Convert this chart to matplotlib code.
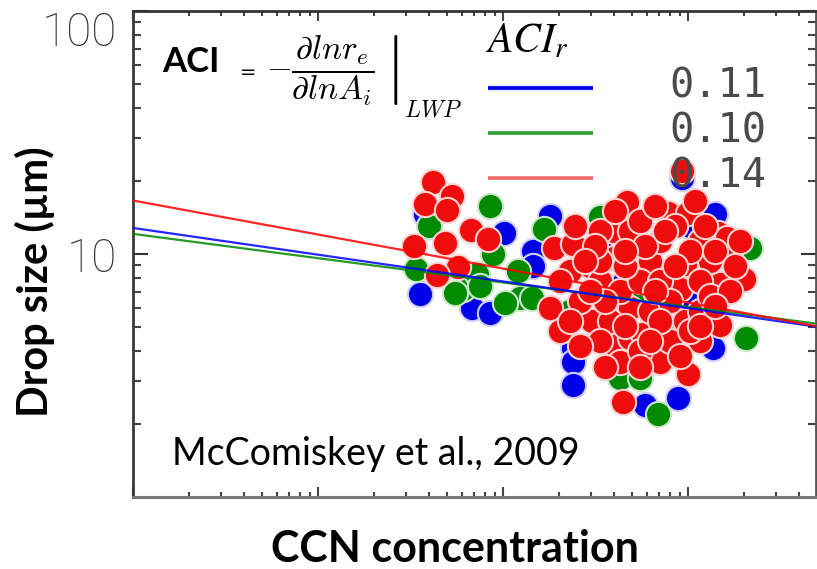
import matplotlib
matplotlib.use("Agg")
import matplotlib.pyplot as plt
import numpy as np
from matplotlib.ticker import LogLocator, NullFormatter, FixedLocator

plt.rcParams['mathtext.fontset'] = 'stix'

# ---------------- data ----------------
ccn_blue = [35.6, 68, 85, 38, 101, 146, 180, 146, 240, 240, 240, 586, 1400, 1025,
            1360, 880, 930, 450, 620, 334, 1000, 720]
drop_blue = [6.84, 6.0, 5.7, 14.6, 12.2, 10.3, 14.35, 8.9, 4.1, 3.6, 2.9, 2.4, 14.6, 13.05,
             4.1, 2.55, 20.5, 7.7, 6.4, 11.3, 6.4, 4.8]

ccn_green = [85, 88, 120, 124, 102, 61, 72, 34, 40, 166, 230, 430, 550, 690, 2060, 2160,
             143, 335, 55, 75, 550, 800, 334, 1161]
drop_green = [15.8, 10.0, 8.5, 6.6, 6.3, 7.2, 8.3, 8.7, 13.0, 12.7, 5.8, 3.1, 3.1, 2.2, 4.5,
              10.6, 6.6, 14.2, 6.9, 7.4, 7.0, 4.6, 4.6, 9.4]

ccn_red = [42, 53, 38, 50, 67, 33, 48.6, 83, 57, 44,
           468, 188, 238, 400, 486, 400, 295, 180, 303, 486, 400, 486, 429, 445, 640,
           930, 780, 1000, 1450, 1620, 1690, 2000, 960, 905, 1490, 964, 1490, 706, 1000,
           570, 623,
           334, 550, 706, 1161, 1315, 334, 429, 550, 706, 1161, 379, 623, 800, 1161, 550,
           800, 1161, 334, 261, 230, 334, 706, 1025, 586, 457, 851, 1236, 203, 203, 261,
           1315, 1687, 245, 314,
           277, 356, 457, 663, 851, 1025, 1400, 1795, 623, 457, 356, 550, 906, 1161, 751,
           295, 230, 1910, 1400, 403, 663, 1091]
drop_red = [19.7, 17.4, 16.0, 15.2, 12.6, 10.8, 11.1, 11.5, 8.8, 8.2,
            16.3, 10.6, 11.0, 12.45, 12.45, 9.6, 8.9, 6.0, 5.28, 6.0, 4.25, 4.5, 3.6, 2.47, 3.6,
            22.0, 14.7, 14.7, 12.2, 11.6, 9.6, 7.9, 9.1, 7.2, 7.5, 5.28, 5.1, 3.6, 3.2,
            4.7, 9.36,
            12.45, 13.7, 11.3, 11.3, 9.36, 7.73, 7.03, 7.73, 7.73, 7.73, 5.28, 5.81, 6.39, 5.81,
            3.97, 4.37, 4.37, 4.37, 6.39, 8.51, 9.36, 5.28, 10.29, 10.79, 8.92, 13.05, 13.05,
            7.73, 4.8, 4.17, 6.71, 7.03, 13.05, 10.8,
            9.36, 6.39, 10.29, 7.03, 8.92, 4.8, 10.29, 8.92, 4.37, 5.04, 3.44, 3.44, 3.79, 5.04,
            12.45, 7.03, 5.28, 11.3, 6.10, 15.05, 15.8, 16.6]

aci_labels = ['0.11', '0.10', '0.14']          # blue, green, red
aci_values = [0.11, 0.10, 0.14]
fit_intercepts = [12.8, 12.1, 16.6]            # drop size at CCN = 1
series_colors = ['#0000e6', '#008a00', '#ee0c0c']
series_edges = ['#cfcfff', '#cce8cc', '#fcd4d4']
fit_colors = ['#0000ff', '#008800', '#ff0000']
legend_colors = ['#0000e0', '#2e9e2e', '#f06868']

ytick_vals = [10, 100]
ytick_labels = ['10', '100']

# ---------------- figure ----------------
fig = plt.figure(figsize=(8.17, 5.69), dpi=100)
fig.patch.set_facecolor('white')
ax = fig.add_axes([133 / 817, 1 - 497 / 569, 683 / 817, 486 / 569])
ax.set_xscale('log')
ax.set_yscale('log')
xmax = 10 ** (683 / 185)
ax.set_xlim(1, xmax)
ax.set_ylim(1, 100)

ms = 330
for cx, cy, c, e in [(ccn_blue, drop_blue, series_colors[0], series_edges[0]),
                     (ccn_green, drop_green, series_colors[1], series_edges[1]),
                     (ccn_red, drop_red, series_colors[2], series_edges[2])]:
    ax.scatter(cx, cy, s=ms, c=c, edgecolors=e, linewidths=1.5, zorder=2)

xx = np.logspace(0, np.log10(xmax), 50)
for order in [1, 0, 2]:
    ax.plot(xx, fit_intercepts[order] * xx ** (-aci_values[order]),
            color=fit_colors[order], lw=1.6, alpha=0.85, zorder=3, solid_capstyle='butt')

# legend (manual)
leg_y = [0.8416, 0.749, 0.6564]
for i in range(3):
    if i == 0:
        ax.plot([0.5198, 0.6735], [leg_y[i], leg_y[i]], transform=ax.transAxes,
                color='#dcdcff', lw=4.5, zorder=4, solid_capstyle='butt')
    ax.plot([0.5198, 0.6735], [leg_y[i], leg_y[i]], transform=ax.transAxes,
            color=legend_colors[i], lw=2.6, zorder=4, solid_capstyle='butt')
    ax.text(0.786, leg_y[i] + 0.004, aci_labels[i], transform=ax.transAxes,
            family='DejaVu Sans Mono', fontsize=29, color='#4a4a4a',
            va='center', ha='left', zorder=6)

ax.text(0.515, 0.94, r'$ACI_r$', transform=ax.transAxes, fontsize=30,
        va='center', ha='left', color='black', zorder=6)

ax.text(0.0425, 0.895, 'ACI', transform=ax.transAxes, family='Lato',
        fontweight='bold', fontsize=25, va='center', ha='left', zorder=6)
ax.text(0.157, 0.874, '=', transform=ax.transAxes, fontsize=14,
        va='center', ha='left', zorder=6)
ax.text(0.195, 0.879,
        r'$-\left.\dfrac{\partial ln r_e}{\partial ln A_i}\;\right|$',
        transform=ax.transAxes, fontsize=24, va='center', ha='left', zorder=6,
        math_fontfamily='cm')
ax.text(0.397, 0.797, r'$LWP$', transform=ax.transAxes, fontsize=17,
        va='center', ha='left', zorder=6, math_fontfamily='cm')

ax.text(0.057, 0.0658, 'McComiskey et al., 2009', transform=ax.transAxes,
        family='Lato', fontsize=27, va='baseline', ha='left', zorder=6)

# ticks
ax.xaxis.set_major_locator(LogLocator(base=10, numticks=10))
ax.xaxis.set_minor_locator(LogLocator(base=10, subs=np.arange(2, 10), numticks=20))
ax.xaxis.set_major_formatter(NullFormatter())
ax.xaxis.set_minor_formatter(NullFormatter())
ax.yaxis.set_major_locator(FixedLocator(ytick_vals))
ax.yaxis.set_minor_locator(LogLocator(base=10, subs=np.arange(2, 10), numticks=20))
ax.set_yticklabels(ytick_labels, family='Roboto', fontweight='light')
ax.yaxis.set_minor_formatter(NullFormatter())

ax.tick_params(axis='x', which='major', direction='in', length=7.5, width=1.5,
               color='#444', top=True, bottom=True)
ax.tick_params(axis='x', which='minor', direction='in', length=3.8, width=1.5,
               color='#444', top=True, bottom=True)
ax.tick_params(axis='y', which='major', direction='in', length=10.5, width=1.5,
               color='#333', left=True, right=True, pad=11.5, labelsize=33,
               labelcolor='#333333')
ax.tick_params(axis='y', which='minor', direction='in', length=5.5, width=1.5,
               color='#444', left=True, right=True)

for lab in ax.get_yticklabels():
    if lab.get_text() == '100':
        lab.set_verticalalignment('top')

ax.spines['left'].set_color('#3a3a3a')
ax.spines['left'].set_linewidth(2.0)
ax.spines['top'].set_color('#333333')
ax.spines['top'].set_linewidth(2.0)
ax.spines['bottom'].set_color('#777777')
ax.spines['bottom'].set_linewidth(2.2)
ax.spines['right'].set_color('#555555')
ax.spines['right'].set_linewidth(2.0)

fig.text(35 / 817, 1 - 282 / 569, 'Drop size (\u00b5m)', family='Lato', fontweight='bold',
         fontsize=30, rotation=90, ha='center', va='center')
fig.text(455 / 817, 7 / 569, 'CCN concentration', family='Lato', fontweight='bold',
         fontsize=31, ha='center', va='baseline')

fig.savefig('out.png', dpi=100)
